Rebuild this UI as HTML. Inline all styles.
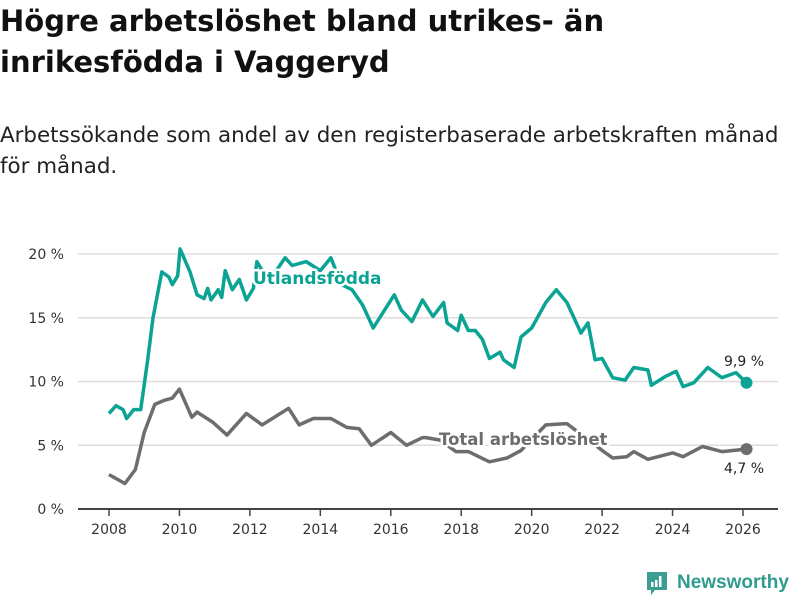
<!DOCTYPE html>
<html><head><meta charset="utf-8"><style>
body{margin:0;width:800px;height:600px;background:#fff;font-family:"DejaVu Sans","Liberation Sans",sans-serif;overflow:hidden;position:relative}
h1{position:absolute;left:0;top:1px;margin:0;font-size:29px;line-height:41px;font-weight:bold;color:#111;width:800px;white-space:nowrap}
p.sub{position:absolute;left:0;top:120px;margin:0;font-size:21.4px;line-height:31px;color:#222;white-space:nowrap}
svg{position:absolute;left:0;top:0}
</style></head><body>
<h1>Högre arbetslöshet bland utrikes- än<br>inrikesfödda i Vaggeryd</h1>
<p class="sub">Arbetssökande som andel av den registerbaserade arbetskraften månad<br>för månad.</p>
<svg id="chart" width="800" height="600"></svg>
<script>
const yTicks=[0,5,10,15,20];
const xTicks=[2008,2010,2012,2014,2016,2018,2020,2022,2024,2026];
const utlDates=[2008.0,2008.2,2008.4,2008.5,2008.7,2008.9,2009.1,2009.25,2009.5,2009.7,2009.8,2009.95,2010.02,2010.3,2010.5,2010.7,2010.8,2010.9,2011.1,2011.2,2011.3,2011.5,2011.7,2011.9,2012.1,2012.2,2012.5,2012.8,2013.0,2013.2,2013.6,2014.0,2014.3,2014.6,2014.9,2015.2,2015.5,2015.8,2016.1,2016.3,2016.6,2016.9,2017.2,2017.5,2017.6,2017.9,2018.0,2018.2,2018.4,2018.6,2018.8,2019.1,2019.2,2019.5,2019.7,2020.0,2020.4,2020.7,2021.0,2021.4,2021.6,2021.8,2022.0,2022.3,2022.65,2022.9,2023.3,2023.4,2023.8,2024.1,2024.3,2024.6,2025.0,2025.4,2025.8,2026.1];
const utlValues=[7.5,8.1,7.8,7.1,7.8,7.8,11.7,15,18.6,18.2,17.6,18.3,20.4,18.6,16.8,16.5,17.3,16.4,17.2,16.6,18.7,17.2,18,16.4,17.3,19.4,18,18.9,19.7,19.1,19.4,18.7,19.7,17.6,17.2,16,14.2,15.5,16.8,15.6,14.7,16.4,15.1,16.2,14.6,14,15.2,14,14,13.3,11.8,12.3,11.7,11.1,13.5,14.2,16.2,17.2,16.2,13.8,14.6,11.7,11.8,10.3,10.1,11.1,10.9,9.7,10.4,10.8,9.6,9.9,11.1,10.3,10.7,9.9];
const totDates=[2008.0,2008.45,2008.75,2009.0,2009.3,2009.55,2009.8,2010.0,2010.35,2010.5,2010.95,2011.35,2011.9,2012.35,2013.1,2013.4,2013.8,2014.3,2014.75,2015.1,2015.45,2016.0,2016.45,2016.9,2017.0,2017.4,2017.85,2018.2,2018.8,2019.3,2019.7,2020.4,2021.0,2022.0,2022.3,2022.7,2022.9,2023.3,2024.0,2024.3,2024.85,2025.4,2026.1];
const totValues=[2.7,2.0,3.1,6.0,8.2,8.5,8.7,9.4,7.2,7.6,6.8,5.8,7.5,6.6,7.9,6.6,7.1,7.1,6.4,6.3,5.0,6.0,5.0,5.6,5.6,5.4,4.5,4.5,3.7,4.0,4.6,6.6,6.7,4.6,4.0,4.1,4.5,3.9,4.4,4.1,4.9,4.5,4.7];
const utlLast="9,9 %", totLast="4,7 %";

const NS="http://www.w3.org/2000/svg";
const svg=document.getElementById('chart');
const X=v=>109+(v-2008)*(743-109)/18;
const Y=v=>509-v*12.75;
function mk(t,a){const e=document.createElementNS(NS,t);for(const k in a)e.setAttribute(k,a[k]);svg.appendChild(e);return e;}
yTicks.forEach(t=>{
  if(t>0){const g=mk('line',{x1:78,x2:778,y1:Y(t),y2:Y(t),stroke:'#ddd','stroke-width':1.5});
  
  }
  const l=mk('text',{x:64,y:Y(t)+5,'text-anchor':'end','font-size':14,fill:'#333'});
  l.textContent=t+' %';
  
  
});
const ax=mk('line',{x1:78,x2:778,y1:509,y2:509,stroke:'#444','stroke-width':2});


xTicks.forEach(t=>{
  const tk=mk('line',{x1:X(t),x2:X(t),y1:509,y2:516,stroke:'#444','stroke-width':1.5});
  
  
  const l=mk('text',{x:X(t),y:534,'text-anchor':'middle','font-size':14,fill:'#333'});
  l.textContent=t;
  
  
});
function line(d,v,c,name){
  const p=mk('path',{d:d.map((x,i)=>(i?'L':'M')+X(x).toFixed(1)+','+Y(v[i]).toFixed(1)).join(''),fill:'none',stroke:c,'stroke-width':3.5,'stroke-linejoin':'round'});
  
  
  const n=d.length-1;
  const dot=mk('circle',{cx:X(d[n]),cy:Y(v[n]),r:6,fill:c});
  
  
}
line(totDates,totValues,'#6d6d70','total');
line(utlDates,utlValues,'#0aa394','utlandsfodda');
function lab(x,y,s,c,name,w,sz){
  const t=mk('text',{x:x,y:y,'font-size':sz,'font-weight':w,fill:c,stroke:'#fff','stroke-width':w=='bold'?5:4,'paint-order':'stroke','stroke-linejoin':'round'});
  t.textContent=s;
  
  
}
lab(253,284,'Utlandsfödda','#0aa394','utlandsfodda-label','bold',17);
lab(439,445,'Total arbetslöshet','#6d6d70','total-label','bold',16.5);
lab(724,366,utlLast,'#222','utlandsfodda-end-value','normal',14);
lab(724,473,totLast,'#222','total-end-value','normal',14);
</script>
<div style="position:absolute;left:645px;top:570px;display:flex;align-items:center;color:#2f9c8e;font-weight:bold;font-size:19px;font-family:'Liberation Sans',sans-serif">
<svg width="24" height="26" style="position:static;margin-right:8px"><path d="M2 2h20v18h-12l-4 5v-5h-4z" fill="#3b9e92"/><rect x="6" y="12" width="2.5" height="5" fill="#fff"/><rect x="10" y="10" width="2.5" height="7" fill="#fff"/><rect x="14" y="6" width="2.5" height="11" fill="#fff"/></svg>Newsworthy</div>
</body></html>
